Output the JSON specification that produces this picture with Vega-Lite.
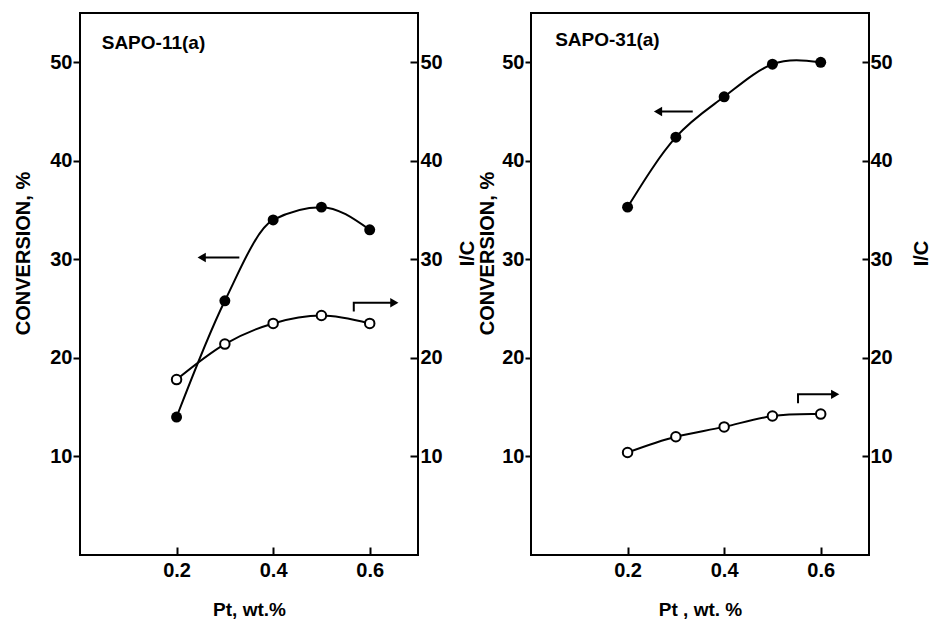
{
  "$schema": "https://vega.github.io/schema/vega-lite/v6.json",
  "padding": {"left": 12, "top": 12, "right": 2, "bottom": 2},
  "bounds": "flush",
  "spacing": 113,
  "background": "white",
  "config": {
    "view": {"stroke": "black", "strokeWidth": 2},
    "axis": {
      "domain": false, "grid": false, "tickColor": "black", "tickWidth": 2,
      "labelFont": "Liberation Sans", "labelFontWeight": "bold", "labelFontSize": 20, "labelColor": "black",
      "titleFont": "Liberation Sans", "titleFontWeight": "bold", "titleFontSize": 20, "titleColor": "black"
    }
  },
  "datasets": {
    "conv": [
      {"panel": "A", "pt": 0.2, "v": 14.0}, {"panel": "A", "pt": 0.3, "v": 25.8}, {"panel": "A", "pt": 0.4, "v": 34.0}, {"panel": "A", "pt": 0.5, "v": 35.3}, {"panel": "A", "pt": 0.6, "v": 33.0},
      {"panel": "B", "pt": 0.2, "v": 35.3}, {"panel": "B", "pt": 0.3, "v": 42.4}, {"panel": "B", "pt": 0.4, "v": 46.5}, {"panel": "B", "pt": 0.5, "v": 49.8}, {"panel": "B", "pt": 0.6, "v": 50.0}
    ],
    "ic": [
      {"panel": "A", "pt": 0.2, "v": 17.8}, {"panel": "A", "pt": 0.3, "v": 21.4}, {"panel": "A", "pt": 0.4, "v": 23.5}, {"panel": "A", "pt": 0.5, "v": 24.3}, {"panel": "A", "pt": 0.6, "v": 23.5},
      {"panel": "B", "pt": 0.2, "v": 10.4}, {"panel": "B", "pt": 0.3, "v": 12.0}, {"panel": "B", "pt": 0.4, "v": 13.0}, {"panel": "B", "pt": 0.5, "v": 14.1}, {"panel": "B", "pt": 0.6, "v": 14.3}
    ],
    "segs": [
      {"panel": "A", "id": "a1", "o": 1, "pt": 0.33, "v": 30.2}, {"panel": "A", "id": "a1", "o": 2, "pt": 0.25, "v": 30.2},
      {"panel": "A", "id": "a2", "o": 1, "pt": 0.567, "v": 24.7}, {"panel": "A", "id": "a2", "o": 2, "pt": 0.567, "v": 25.6}, {"panel": "A", "id": "a2", "o": 3, "pt": 0.65, "v": 25.6},
      {"panel": "B", "id": "b1", "o": 1, "pt": 0.335, "v": 45.0}, {"panel": "B", "id": "b1", "o": 2, "pt": 0.26, "v": 45.0},
      {"panel": "B", "id": "b2", "o": 1, "pt": 0.553, "v": 15.4}, {"panel": "B", "id": "b2", "o": 2, "pt": 0.553, "v": 16.3}, {"panel": "B", "id": "b2", "o": 3, "pt": 0.63, "v": 16.3}
    ],
    "heads": [
      {"panel": "A", "pt": 0.252, "v": 30.2, "shape": "triangle-left"},
      {"panel": "A", "pt": 0.651, "v": 25.6, "shape": "triangle-right"},
      {"panel": "B", "pt": 0.263, "v": 45.0, "shape": "triangle-left"},
      {"panel": "B", "pt": 0.63, "v": 16.3, "shape": "triangle-right"}
    ],
    "labels": [
      {"panel": "A", "pt": 0.045, "v": 52, "label": "SAPO-11(a)"},
      {"panel": "B", "pt": 0.05, "v": 52.3, "label": "SAPO-31(a)"}
    ]
  },
  "hconcat": [
    {
      "width": 338, "height": 542,
      "layer": [
        {
          "layer": [
            {"data": {"name": "conv"}, "transform": [{"filter": "datum.panel === 'A'"}],
             "mark": {"type": "line", "interpolate": "monotone", "color": "black", "strokeWidth": 2},
             "encoding": {
               "x": {"field": "pt", "type": "quantitative", "scale": {"domain": [0, 0.7], "nice": false}, "axis": {"values": [0.2, 0.4, 0.6], "format": ".1f", "tickSize": -8, "labelPadding": 13, "titlePadding": 20, "titleFontSize": 19}, "title": "Pt, wt.%"},
               "y": {"field": "v", "type": "quantitative", "scale": {"domain": [0, 55], "nice": false}, "axis": {"values": [10, 20, 30, 40, 50], "tickSize": 7, "labelPadding": 1, "titleAngle": 270, "titleBaseline": "middle", "titleX": -57, "titleY": 240}, "title": "CONVERSION, %"}
             }},
            {"data": {"name": "conv"}, "transform": [{"filter": "datum.panel === 'A'"}],
             "mark": {"type": "point", "filled": true, "color": "black", "size": 120, "opacity": 1},
             "encoding": {"x": {"field": "pt", "type": "quantitative"}, "y": {"field": "v", "type": "quantitative"}}},
            {"data": {"name": "segs"}, "transform": [{"filter": "datum.panel === 'A'"}],
             "mark": {"type": "line", "color": "black", "strokeWidth": 2},
             "encoding": {"x": {"field": "pt", "type": "quantitative"}, "y": {"field": "v", "type": "quantitative"}, "detail": {"field": "id"}, "order": {"field": "o"}}},
            {"data": {"name": "heads"}, "transform": [{"filter": "datum.panel === 'A'"}],
             "mark": {"type": "point", "filled": true, "color": "black", "size": 90, "opacity": 1},
             "encoding": {"x": {"field": "pt", "type": "quantitative"}, "y": {"field": "v", "type": "quantitative"}, "shape": {"field": "shape", "type": "nominal", "scale": null}}},
            {"data": {"name": "labels"}, "transform": [{"filter": "datum.panel === 'A'"}],
             "mark": {"type": "text", "align": "left", "baseline": "middle", "font": "Liberation Sans", "fontWeight": "bold", "fontSize": 19, "color": "black"},
             "encoding": {"x": {"field": "pt", "type": "quantitative"}, "y": {"field": "v", "type": "quantitative"}, "text": {"field": "label"}}}
          ]
        },
        {
          "layer": [
            {"data": {"name": "ic"}, "transform": [{"filter": "datum.panel === 'A'"}],
             "mark": {"type": "line", "interpolate": "monotone", "color": "black", "strokeWidth": 2},
             "encoding": {
               "x": {"field": "pt", "type": "quantitative"},
               "y": {"field": "v", "type": "quantitative", "scale": {"domain": [0, 55], "nice": false}, "axis": {"orient": "right", "values": [10, 20, 30, 40, 50], "tickSize": -8, "labelPadding": 10, "titleAngle": 270, "titleBaseline": "middle", "titleX": 49, "titleY": 240}, "title": "I/C"}
             }},
            {"data": {"name": "ic"}, "transform": [{"filter": "datum.panel === 'A'"}],
             "mark": {"type": "point", "filled": true, "fill": "white", "stroke": "black", "strokeWidth": 2, "size": 90, "opacity": 1},
             "encoding": {"x": {"field": "pt", "type": "quantitative"}, "y": {"field": "v", "type": "quantitative"}}}
          ]
        }
      ],
      "resolve": {"scale": {"y": "independent"}}
    },
    {
      "width": 338, "height": 542,
      "layer": [
        {
          "layer": [
            {"data": {"name": "conv"}, "transform": [{"filter": "datum.panel === 'B'"}],
             "mark": {"type": "line", "interpolate": "natural", "color": "black", "strokeWidth": 2},
             "encoding": {
               "x": {"field": "pt", "type": "quantitative", "scale": {"domain": [0, 0.7], "nice": false}, "axis": {"values": [0.2, 0.4, 0.6], "format": ".1f", "tickSize": -8, "labelPadding": 13, "titlePadding": 20, "titleFontSize": 19}, "title": "Pt , wt. %"},
               "y": {"field": "v", "type": "quantitative", "scale": {"domain": [0, 55], "nice": false}, "axis": {"values": [10, 20, 30, 40, 50], "tickSize": 6, "labelPadding": 1, "titleAngle": 270, "titleBaseline": "middle", "titleX": -44, "titleY": 240}, "title": "CONVERSION, %"}
             }},
            {"data": {"name": "conv"}, "transform": [{"filter": "datum.panel === 'B'"}],
             "mark": {"type": "point", "filled": true, "color": "black", "size": 120, "opacity": 1},
             "encoding": {"x": {"field": "pt", "type": "quantitative"}, "y": {"field": "v", "type": "quantitative"}}},
            {"data": {"name": "segs"}, "transform": [{"filter": "datum.panel === 'B'"}],
             "mark": {"type": "line", "color": "black", "strokeWidth": 2},
             "encoding": {"x": {"field": "pt", "type": "quantitative"}, "y": {"field": "v", "type": "quantitative"}, "detail": {"field": "id"}, "order": {"field": "o"}}},
            {"data": {"name": "heads"}, "transform": [{"filter": "datum.panel === 'B'"}],
             "mark": {"type": "point", "filled": true, "color": "black", "size": 90, "opacity": 1},
             "encoding": {"x": {"field": "pt", "type": "quantitative"}, "y": {"field": "v", "type": "quantitative"}, "shape": {"field": "shape", "type": "nominal", "scale": null}}},
            {"data": {"name": "labels"}, "transform": [{"filter": "datum.panel === 'B'"}],
             "mark": {"type": "text", "align": "left", "baseline": "middle", "font": "Liberation Sans", "fontWeight": "bold", "fontSize": 19, "color": "black"},
             "encoding": {"x": {"field": "pt", "type": "quantitative"}, "y": {"field": "v", "type": "quantitative"}, "text": {"field": "label"}}}
          ]
        },
        {
          "layer": [
            {"data": {"name": "ic"}, "transform": [{"filter": "datum.panel === 'B'"}],
             "mark": {"type": "line", "interpolate": "natural", "color": "black", "strokeWidth": 2},
             "encoding": {
               "x": {"field": "pt", "type": "quantitative"},
               "y": {"field": "v", "type": "quantitative", "scale": {"domain": [0, 55], "nice": false}, "axis": {"orient": "right", "values": [10, 20, 30, 40, 50], "tickSize": -7, "labelPadding": 8, "titleAngle": 270, "titleBaseline": "middle", "titleX": 52, "titleY": 240}, "title": "I/C"}
             }},
            {"data": {"name": "ic"}, "transform": [{"filter": "datum.panel === 'B'"}],
             "mark": {"type": "point", "filled": true, "fill": "white", "stroke": "black", "strokeWidth": 2, "size": 90, "opacity": 1},
             "encoding": {"x": {"field": "pt", "type": "quantitative"}, "y": {"field": "v", "type": "quantitative"}}}
          ]
        }
      ],
      "resolve": {"scale": {"y": "independent"}}
    }
  ]
}
